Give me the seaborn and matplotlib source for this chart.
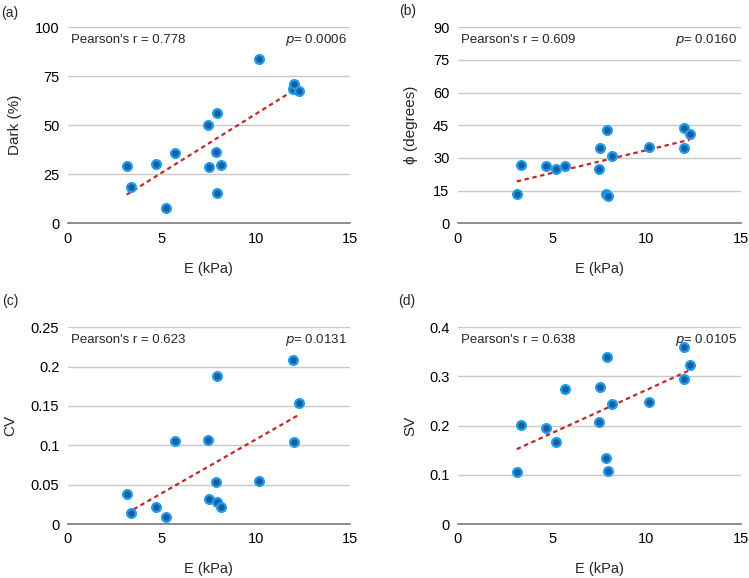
import numpy as np
import matplotlib.pyplot as plt
import seaborn as sns

# --- Data ---
E_kpa = [3.13, 3.35, 4.68, 5.22, 5.70, 7.47, 7.53, 7.88, 7.93, 7.95, 8.16, 10.15, 11.99, 12.02, 12.29]
dark = [29.4, 18.4, 30.3, 7.8, 36.1, 50.3, 28.6, 36.6, 56.5, 15.3, 29.6, 83.7, 68.4, 71.1, 67.7]
phi = [13.5, 26.8, 26.2, 24.9, 26.5, 24.8, 34.7, 13.6, 42.9, 12.4, 30.9, 34.9, 34.4, 43.9, 41.0]
cv = [0.0381, 0.0140, 0.0220, 0.0093, 0.1059, 0.1072, 0.0314, 0.0534, 0.1877, 0.0280, 0.0220,
      0.0551, 0.2081, 0.1047, 0.1534]
sv = [0.105, 0.201, 0.195, 0.166, 0.275, 0.208, 0.279, 0.135, 0.340, 0.107, 0.245, 0.249,
      0.295, 0.360, 0.323]

panel_tags = ["(a)", "(b)", "(c)", "(d)"]
y_labels = ["Dark (%)", "ϕ (degrees)", "CV", "SV"]
pearson_r = ["0.778", "0.609", "0.623", "0.638"]
p_values = ["0.0006", "0.0160", "0.0131", "0.0105"]
y_ticks = [
    [0, 25, 50, 75, 100],
    [0, 15, 30, 45, 60, 75, 90],
    [0, 0.05, 0.1, 0.15, 0.2, 0.25],
    [0, 0.1, 0.2, 0.3, 0.4],
]
y_ticklabels = [
    ["0", "25", "50", "75", "100"],
    ["0", "15", "30", "45", "60", "75", "90"],
    ["0", "0.05", "0.1", "0.15", "0.2", "0.25"],
    ["0", "0.1", "0.2", "0.3", "0.4"],
]
x_ticks = [0, 5, 10, 15]

sns.set_theme(style="white")
plt.rcParams['font.family'] = ['Liberation Sans', 'DejaVu Sans']

W, H = 749, 578
fig = plt.figure(figsize=(W / 100, H / 100), dpi=100)

# axes rectangles in pixels: (x0, x15, y_bottom, y_top)
rects = [
    (67.7, 350.0, 223.3, 27.3),
    (457.7, 740.7, 223.3, 27.3),
    (67.7, 350.0, 524.0, 327.3),
    (457.7, 740.7, 524.0, 327.3),
]
ylabel_x = [-0.163, -0.141, -0.179, -0.141]
tag_pos = [(10, 13), (408, 11), (10.5, 301), (407, 301)]

series = [dark, phi, cv, sv]

for i, vals in enumerate(series):
    x0, x1, yb, yt = rects[i]
    ax = fig.add_axes([x0 / W, 1 - yb / H, (x1 - x0) / W, (yb - yt) / H])

    # trend line
    sns.regplot(x=E_kpa, y=vals, ax=ax, scatter=False, ci=None, truncate=True,
                line_kws=dict(color="#c0282a", lw=1.6, ls=(0, (2.0, 1.6)), zorder=2))
    sns.scatterplot(x=E_kpa, y=vals, ax=ax, color="#1b5d9c", edgecolor="#1d9cf0",
                    linewidth=1.6, s=40, zorder=3)

    ax.set_xlim(0, 15)
    ax.set_ylim(y_ticks[i][0], y_ticks[i][-1])
    ax.set_xticks(x_ticks)
    ax.set_yticks(y_ticks[i])
    ax.set_yticklabels(y_ticklabels[i])
    ax.tick_params(axis="both", length=0, labelsize=10.5, colors="black", pad=6)
    ax.grid(axis="y", color="#c8c8c8", lw=1.0)
    ax.grid(axis="x", visible=False)
    for s in ["top", "right", "left"]:
        ax.spines[s].set_visible(False)
    ax.spines["bottom"].set_color("#7a7a7a")
    ax.spines["bottom"].set_linewidth(1.2)
    ax.set_axisbelow(True)

    ax.set_xlabel("E (kPa)", fontsize=10.5)
    ax.set_ylabel(y_labels[i], fontsize=11)
    ax.xaxis.set_label_coords(0.5, -0.195)
    ax.yaxis.set_label_coords(ylabel_x[i], 0.5)

    ax.text(0.012, 0.935, f"Pearson's r = {pearson_r[i]}", transform=ax.transAxes,
            fontsize=9.5, ha="left", va="center")
    ax.text(0.988, 0.935, f"$\\it{{p}}$= {p_values[i]}", transform=ax.transAxes,
            fontsize=9.5, ha="right", va="center")

    tx, ty = tag_pos[i]
    fig.text(tx / W, 1 - ty / H, panel_tags[i], fontsize=10, ha="center", va="center")

fig.savefig("out.png", dpi=100)
